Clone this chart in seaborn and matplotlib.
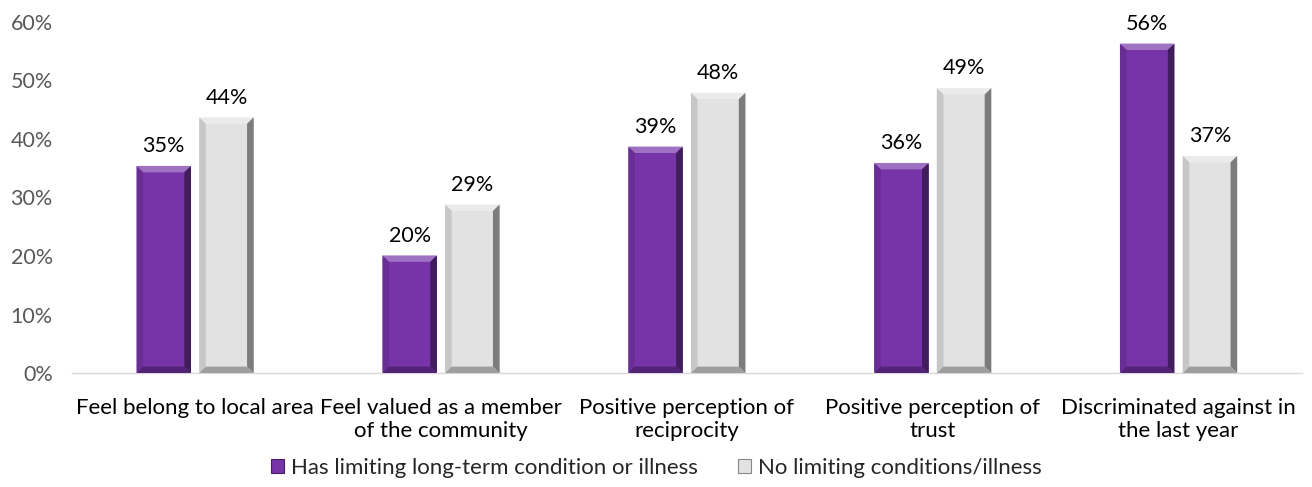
import numpy as np
import pandas as pd
import matplotlib.pyplot as plt
from matplotlib.patches import Polygon, Patch
import seaborn as sns

categories = [
    "Feel belong to local area",
    "Feel valued as a member\nof the community",
    "Positive perception of\nreciprocity",
    "Positive perception of\ntrust",
    "Discriminated against in\nthe last year",
]
series_names = ["Has limiting long-term condition or illness", "No limiting conditions/illness"]
limiting = [35.4, 20.1, 38.7, 35.9, 56.3]
no_limiting = [43.7, 28.8, 47.9, 48.7, 37.1]
colors = {series_names[0]: "#7634a8", series_names[1]: "#e2e2e2"}


def shade(hex_color, f):
    rgb = np.array(plt.matplotlib.colors.to_rgb(hex_color))
    if f > 0:
        rgb = rgb + (1 - rgb) * f
    else:
        rgb = rgb * (1 + f)
    return tuple(np.clip(rgb, 0, 1))


def add_bevel(ax, patch, color, bx, by):
    x0, y0 = patch.get_x(), patch.get_y()
    w, h = patch.get_width(), patch.get_height()
    x1, y1 = x0 + w, y0 + h
    facets = [
        ([(x0, y1), (x1, y1), (x1 - bx, y1 - by), (x0 + bx, y1 - by)], shade(color, 0.3)),
        ([(x1, y1), (x1, y0), (x1 - bx, y0 + by), (x1 - bx, y1 - by)], shade(color, -0.45)),
        ([(x0, y1), (x0, y0), (x0 + bx, y0 + by), (x0 + bx, y1 - by)], shade(color, -0.12)),
        ([(x0, y0), (x1, y0), (x1 - bx, y0 + by), (x0 + bx, y0 + by)], shade(color, -0.3)),
    ]
    for pts, c in facets:
        ax.add_patch(Polygon(pts, closed=True, facecolor=c, edgecolor="none", zorder=3))


df = pd.DataFrame({
    "category": categories * 2,
    "group": [series_names[0]] * len(categories) + [series_names[1]] * len(categories),
    "value": limiting + no_limiting,
})

sns.set_style("white")
plt.rcParams["font.family"] = ["Lato", "DejaVu Sans"]

fig = plt.figure(figsize=(13.12, 4.87), dpi=100)
ax = fig.add_axes([0.055, 0.234, 0.937, 0.721])

sns.barplot(data=df, x="category", y="value", hue="group", palette=colors,
            width=0.51, gap=0.13, ax=ax, legend=False, saturation=1)

for container, name in zip(ax.containers, series_names):
    for patch in container:
        patch.set_zorder(2)
        add_bevel(ax, patch, colors[name], 0.027, 1.1)
    ax.bar_label(container, labels=[f"{v.get_height():.0f}%" for v in container],
                 padding=7, fontsize=15.5, color="#000000")

ax.set_ylim(0, 60)
ax.set_xlim(-0.5, len(categories) - 0.5)
ax.set_yticks(range(0, 61, 10))
ax.set_yticklabels([f"{t}%" for t in range(0, 61, 10)], color="#595959", fontsize=15.5)
ax.tick_params(axis="x", labelsize=16, colors="#000000", length=0, pad=18)
ax.tick_params(axis="y", length=0, pad=14)
ax.set_xlabel("")
ax.set_ylabel("")
for side in ["top", "right", "left"]:
    ax.spines[side].set_visible(False)
ax.spines["bottom"].set_color("#d9d9d9")
ax.spines["bottom"].set_linewidth(1)

handles = [Patch(facecolor=colors[n], edgecolor=shade(colors[n], -0.4), linewidth=0.8) for n in series_names]
fig.legend(handles, series_names, loc="lower center", bbox_to_anchor=(0.5, -0.022), ncol=2,
           frameon=False, fontsize=16, handlelength=0.6, handleheight=0.6,
           handletextpad=0.3, columnspacing=1.8)

fig.savefig("out.png", dpi=100)
